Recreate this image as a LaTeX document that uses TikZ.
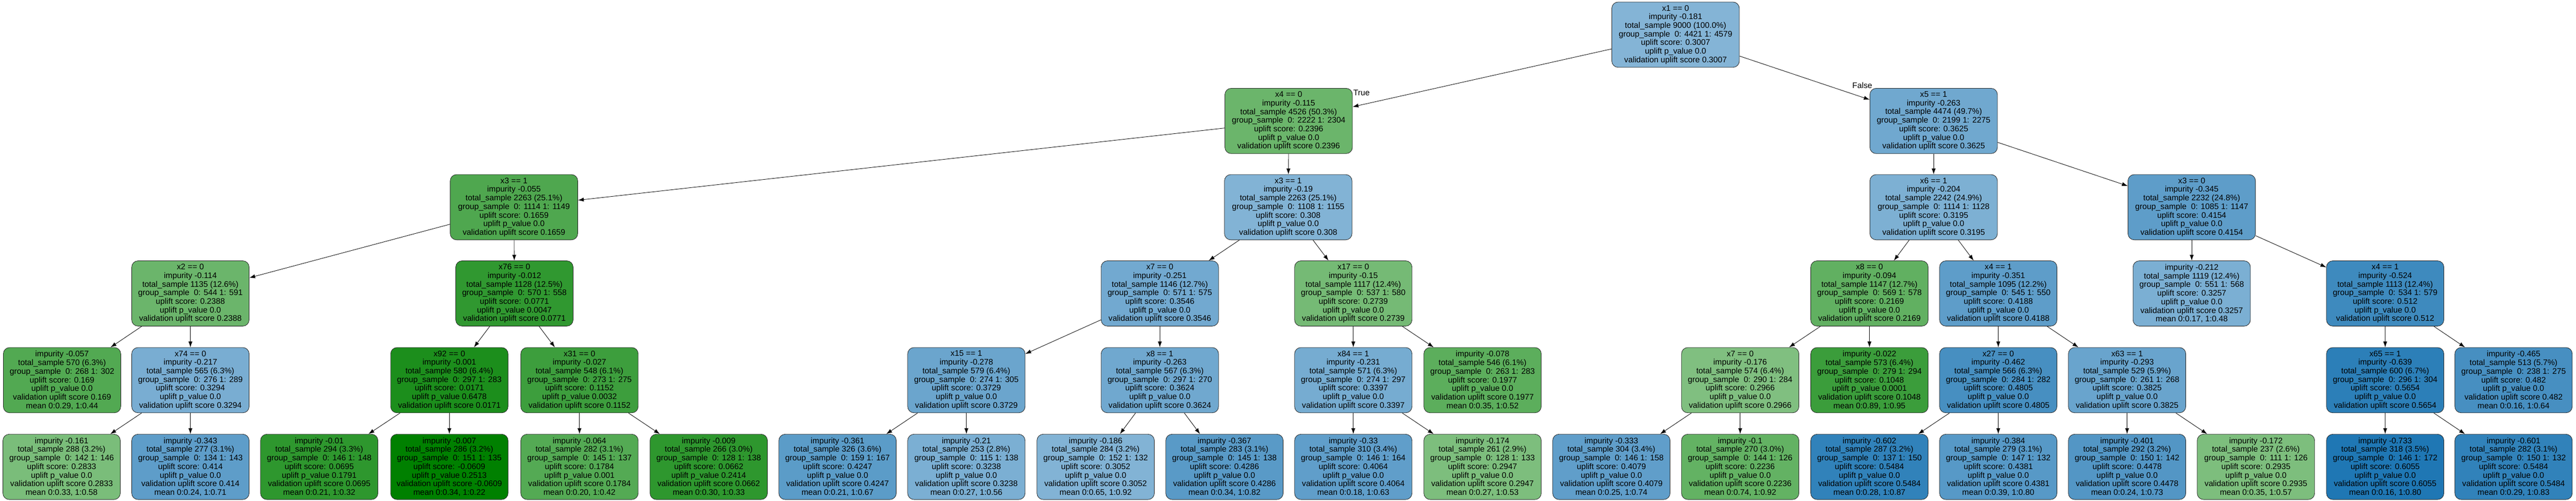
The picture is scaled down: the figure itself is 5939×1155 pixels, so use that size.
\documentclass[tikz,border=0pt]{standalone}
\usepackage{fontspec}
\setmainfont{Liberation Sans}
\usetikzlibrary{arrows.meta}

\definecolor{tblue}{RGB}{31,119,180}
\definecolor{tgreen}{RGB}{0,128,0}

\tikzset{
    box/.style={draw=black!85, line width=0.75pt, rounded corners=11pt, align=center,
        minimum width=203pt, minimum height=113pt, inner xsep=5pt, inner ysep=0pt,
        font=\fontsize{14pt}{14.9pt}\selectfont},
    wide/.style={minimum width=220.5pt},
    bl/.style={fill=tblue!#1!white},
    gr/.style={fill=tgreen!#1!white},
    edge/.style={line width=0.75pt, -{Latex[length=10pt, width=7pt]}},
    tag/.style={inner sep=0pt, font=\fontsize{14pt}{14.9pt}\selectfont}
}

\begin{document}
\begin{tikzpicture}[x=0.75pt, y=-0.75pt]
    \useasboundingbox (0,0) rectangle (5939,1155);

    \node[box, wide, bl=55] (r) at (3863,80) {x1 == 0\\impurity -0.181\\total\_sample 9000 (100.0\%)\\group\_sample\ \ 0: 4421 1: 4579\\uplift score: 0.3007\\uplift p\_value 0.0\\validation uplift score 0.3007};

    \node[box, wide, gr=58] (a) at (2971,279) {x4 == 0\\impurity -0.115\\total\_sample 4526 (50.3\%)\\group\_sample\ \ 0: 2222 1: 2304\\uplift score: 0.2396\\uplift p\_value 0.0\\validation uplift score 0.2396};
    \node[box, wide, bl=64] (b) at (4458,279) {x5 == 1\\impurity -0.263\\total\_sample 4474 (49.7\%)\\group\_sample\ \ 0: 2199 1: 2275\\uplift score: 0.3625\\uplift p\_value 0.0\\validation uplift score 0.3625};

    \node[box, wide, gr=69] (aa) at (1185,478) {x3 == 1\\impurity -0.055\\total\_sample 2263 (25.1\%)\\group\_sample\ \ 0: 1114 1: 1149\\uplift score: 0.1659\\uplift p\_value 0.0\\validation uplift score 0.1659};
    \node[box, wide, bl=56] (ab) at (2970,478) {x3 == 1\\impurity -0.19\\total\_sample 2263 (25.1\%)\\group\_sample\ \ 0: 1108 1: 1155\\uplift score: 0.308\\uplift p\_value 0.0\\validation uplift score 0.308};
    \node[box, wide, bl=58] (ba) at (4458,478) {x6 == 1\\impurity -0.204\\total\_sample 2242 (24.9\%)\\group\_sample\ \ 0: 1114 1: 1128\\uplift score: 0.3195\\uplift p\_value 0.0\\validation uplift score 0.3195};
    \node[box, wide, bl=72] (bb) at (5053,478) {x3 == 0\\impurity -0.345\\total\_sample 2232 (24.8\%)\\group\_sample\ \ 0: 1085 1: 1147\\uplift score: 0.4154\\uplift p\_value 0.0\\validation uplift score 0.4154};

    \node[box, gr=58] (aaa) at (439,677) {x2 == 0\\impurity -0.114\\total\_sample 1135 (12.6\%)\\group\_sample\ \ 0: 544 1: 591\\uplift score: 0.2388\\uplift p\_value 0.0\\validation uplift score 0.2388};
    \node[box, gr=81] (aab) at (1186,677) {x76 == 0\\impurity -0.012\\total\_sample 1128 (12.5\%)\\group\_sample\ \ 0: 570 1: 558\\uplift score: 0.0771\\uplift p\_value 0.0047\\validation uplift score 0.0771};
    \node[box, bl=63] (aba) at (2674,677) {x7 == 0\\impurity -0.251\\total\_sample 1146 (12.7\%)\\group\_sample\ \ 0: 571 1: 575\\uplift score: 0.3546\\uplift p\_value 0.0\\validation uplift score 0.3546};
    \node[box, gr=54] (abb) at (3120,677) {x17 == 0\\impurity -0.15\\total\_sample 1117 (12.4\%)\\group\_sample\ \ 0: 537 1: 580\\uplift score: 0.2739\\uplift p\_value 0.0\\validation uplift score 0.2739};
    \node[box, gr=62] (baa) at (4310,677) {x8 == 0\\impurity -0.094\\total\_sample 1147 (12.7\%)\\group\_sample\ \ 0: 569 1: 578\\uplift score: 0.2169\\uplift p\_value 0.0\\validation uplift score 0.2169};
    \node[box, bl=72] (bab) at (4607,677) {x4 == 1\\impurity -0.351\\total\_sample 1095 (12.2\%)\\group\_sample\ \ 0: 545 1: 550\\uplift score: 0.4188\\uplift p\_value 0.0\\validation uplift score 0.4188};
    \node[box, bl=59] (bba) at (5053,677) {impurity -0.212\\total\_sample 1119 (12.4\%)\\group\_sample\ \ 0: 551 1: 568\\uplift score: 0.3257\\uplift p\_value 0.0\\validation uplift score 0.3257\\mean 0:0.17, 1:0.48};
    \node[box, bl=86] (bbb) at (5499,677) {x4 == 1\\impurity -0.524\\total\_sample 1113 (12.4\%)\\group\_sample\ \ 0: 534 1: 579\\uplift score: 0.512\\uplift p\_value 0.0\\validation uplift score 0.512};

    \node[box, gr=68] (aaaa) at (143,877) {impurity -0.057\\total\_sample 570 (6.3\%)\\group\_sample\ \ 0: 268 1: 302\\uplift score: 0.169\\uplift p\_value 0.0\\validation uplift score 0.169\\mean 0:0.29, 1:0.44};
    \node[box, bl=60] (aaab) at (439,877) {x74 == 0\\impurity -0.217\\total\_sample 565 (6.3\%)\\group\_sample\ \ 0: 276 1: 289\\uplift score: 0.3294\\uplift p\_value 0.0\\validation uplift score 0.3294};
    \node[box, gr=89] (aaba) at (1036,877) {x92 == 0\\impurity -0.001\\total\_sample 580 (6.4\%)\\group\_sample\ \ 0: 297 1: 283\\uplift score: 0.0171\\uplift p\_value 0.6478\\validation uplift score 0.0171};
    \node[box, gr=76] (aabb) at (1336,877) {x31 == 0\\impurity -0.027\\total\_sample 548 (6.1\%)\\group\_sample\ \ 0: 273 1: 275\\uplift score: 0.1152\\uplift p\_value 0.0032\\validation uplift score 0.1152};
    \node[box, bl=66] (abaa) at (2228,877) {x15 == 1\\impurity -0.278\\total\_sample 579 (6.4\%)\\group\_sample\ \ 0: 274 1: 305\\uplift score: 0.3729\\uplift p\_value 0.0\\validation uplift score 0.3729};
    \node[box, bl=64] (abab) at (2674,877) {x8 == 1\\impurity -0.263\\total\_sample 567 (6.3\%)\\group\_sample\ \ 0: 297 1: 270\\uplift score: 0.3624\\uplift p\_value 0.0\\validation uplift score 0.3624};
    \node[box, bl=61] (abba) at (3120,877) {x84 == 1\\impurity -0.231\\total\_sample 571 (6.3\%)\\group\_sample\ \ 0: 274 1: 297\\uplift score: 0.3397\\uplift p\_value 0.0\\validation uplift score 0.3397};
    \node[box, gr=64] (abbb) at (3418,877) {impurity -0.078\\total\_sample 546 (6.1\%)\\group\_sample\ \ 0: 263 1: 283\\uplift score: 0.1977\\uplift p\_value 0.0\\validation uplift score 0.1977\\mean 0:0.35, 1:0.52};
    \node[box, gr=50] (baaa) at (4012,877) {x7 == 0\\impurity -0.176\\total\_sample 574 (6.4\%)\\group\_sample\ \ 0: 290 1: 284\\uplift score: 0.2966\\uplift p\_value 0.0\\validation uplift score 0.2966};
    \node[box, gr=77] (baab) at (4310,877) {impurity -0.022\\total\_sample 573 (6.4\%)\\group\_sample\ \ 0: 279 1: 294\\uplift score: 0.1048\\uplift p\_value 0.0001\\validation uplift score 0.1048\\mean 0:0.89, 1:0.95};
    \node[box, bl=82] (baba) at (4607,877) {x27 == 0\\impurity -0.462\\total\_sample 566 (6.3\%)\\group\_sample\ \ 0: 284 1: 282\\uplift score: 0.4805\\uplift p\_value 0.0\\validation uplift score 0.4805};
    \node[box, bl=67] (babb) at (4904,877) {x63 == 1\\impurity -0.293\\total\_sample 529 (5.9\%)\\group\_sample\ \ 0: 261 1: 268\\uplift score: 0.3825\\uplift p\_value 0.0\\validation uplift score 0.3825};
    \node[box, bl=94] (bbba) at (5499,877) {x65 == 1\\impurity -0.639\\total\_sample 600 (6.7\%)\\group\_sample\ \ 0: 296 1: 304\\uplift score: 0.5654\\uplift p\_value 0.0\\validation uplift score 0.5654};
    \node[box, bl=82] (bbbb) at (5795,877) {impurity -0.465\\total\_sample 513 (5.7\%)\\group\_sample\ \ 0: 238 1: 275\\uplift score: 0.482\\uplift p\_value 0.0\\validation uplift score 0.482\\mean 0:0.16, 1:0.64};

    \node[box, gr=52] (aaaba) at (142,1077) {impurity -0.161\\total\_sample 288 (3.2\%)\\group\_sample\ \ 0: 142 1: 146\\uplift score: 0.2833\\uplift p\_value 0.0\\validation uplift score 0.2833\\mean 0:0.33, 1:0.58};
    \node[box, bl=72] (aaabb) at (439,1077) {impurity -0.343\\total\_sample 277 (3.1\%)\\group\_sample\ \ 0: 134 1: 143\\uplift score: 0.414\\uplift p\_value 0.0\\validation uplift score 0.414\\mean 0:0.24, 1:0.71};
    \node[box, gr=82] (aabaa) at (736,1077) {impurity -0.01\\total\_sample 294 (3.3\%)\\group\_sample\ \ 0: 146 1: 148\\uplift score: 0.0695\\uplift p\_value 0.1791\\validation uplift score 0.0695\\mean 0:0.21, 1:0.32};
    \node[box, gr=100] (aabab) at (1036,1077) {impurity -0.007\\total\_sample 286 (3.2\%)\\group\_sample\ \ 0: 151 1: 135\\uplift score: -0.0609\\uplift p\_value 0.2513\\validation uplift score -0.0609\\mean 0:0.34, 1:0.22};
    \node[box, gr=67] (aabba) at (1336,1077) {impurity -0.064\\total\_sample 282 (3.1\%)\\group\_sample\ \ 0: 145 1: 137\\uplift score: 0.1784\\uplift p\_value 0.001\\validation uplift score 0.1784\\mean 0:0.20, 1:0.42};
    \node[box, gr=82] (aabbb) at (1634,1077) {impurity -0.009\\total\_sample 266 (3.0\%)\\group\_sample\ \ 0: 128 1: 138\\uplift score: 0.0662\\uplift p\_value 0.2414\\validation uplift score 0.0662\\mean 0:0.30, 1:0.33};
    \node[box, bl=73] (abaaa) at (1931,1077) {impurity -0.361\\total\_sample 326 (3.6\%)\\group\_sample\ \ 0: 159 1: 167\\uplift score: 0.4247\\uplift p\_value 0.0\\validation uplift score 0.4247\\mean 0:0.21, 1:0.67};
    \node[box, bl=59] (abaab) at (2228,1077) {impurity -0.21\\total\_sample 253 (2.8\%)\\group\_sample\ \ 0: 115 1: 138\\uplift score: 0.3238\\uplift p\_value 0.0\\validation uplift score 0.3238\\mean 0:0.27, 1:0.56};
    \node[box, bl=56] (ababa) at (2526,1077) {impurity -0.186\\total\_sample 284 (3.2\%)\\group\_sample\ \ 0: 152 1: 132\\uplift score: 0.3052\\uplift p\_value 0.0\\validation uplift score 0.3052\\mean 0:0.65, 1:0.92};
    \node[box, bl=74] (ababb) at (2823,1077) {impurity -0.367\\total\_sample 283 (3.1\%)\\group\_sample\ \ 0: 145 1: 138\\uplift score: 0.4286\\uplift p\_value 0.0\\validation uplift score 0.4286\\mean 0:0.34, 1:0.82};
    \node[box, bl=71] (abbaa) at (3120,1077) {impurity -0.33\\total\_sample 310 (3.4\%)\\group\_sample\ \ 0: 146 1: 164\\uplift score: 0.4064\\uplift p\_value 0.0\\validation uplift score 0.4064\\mean 0:0.18, 1:0.63};
    \node[box, gr=51] (abbab) at (3418,1077) {impurity -0.174\\total\_sample 261 (2.9\%)\\group\_sample\ \ 0: 128 1: 133\\uplift score: 0.2947\\uplift p\_value 0.0\\validation uplift score 0.2947\\mean 0:0.27, 1:0.53};
    \node[box, bl=71] (baaaa) at (3715,1077) {impurity -0.333\\total\_sample 304 (3.4\%)\\group\_sample\ \ 0: 146 1: 158\\uplift score: 0.4079\\uplift p\_value 0.0\\validation uplift score 0.4079\\mean 0:0.25, 1:0.74};
    \node[box, gr=61] (baaab) at (4012,1077) {impurity -0.1\\total\_sample 270 (3.0\%)\\group\_sample\ \ 0: 144 1: 126\\uplift score: 0.2236\\uplift p\_value 0.0\\validation uplift score 0.2236\\mean 0:0.74, 1:0.92};
    \node[box, bl=92] (babaa) at (4310,1077) {impurity -0.602\\total\_sample 287 (3.2\%)\\group\_sample\ \ 0: 137 1: 150\\uplift score: 0.5484\\uplift p\_value 0.0\\validation uplift score 0.5484\\mean 0:0.28, 1:0.87};
    \node[box, bl=75] (babab) at (4607,1077) {impurity -0.384\\total\_sample 279 (3.1\%)\\group\_sample\ \ 0: 147 1: 132\\uplift score: 0.4381\\uplift p\_value 0.0\\validation uplift score 0.4381\\mean 0:0.39, 1:0.80};
    \node[box, bl=77] (babba) at (4904,1077) {impurity -0.401\\total\_sample 292 (3.2\%)\\group\_sample\ \ 0: 150 1: 142\\uplift score: 0.4478\\uplift p\_value 0.0\\validation uplift score 0.4478\\mean 0:0.24, 1:0.73};
    \node[box, gr=51] (babbb) at (5201,1077) {impurity -0.172\\total\_sample 237 (2.6\%)\\group\_sample\ \ 0: 111 1: 126\\uplift score: 0.2935\\uplift p\_value 0.0\\validation uplift score 0.2935\\mean 0:0.35, 1:0.57};
    \node[box, bl=100] (bbbaa) at (5499,1077) {impurity -0.733\\total\_sample 318 (3.5\%)\\group\_sample\ \ 0: 146 1: 172\\uplift score: 0.6055\\uplift p\_value 0.0\\validation uplift score 0.6055\\mean 0:0.16, 1:0.80};
    \node[box, bl=92] (bbbab) at (5795,1077) {impurity -0.601\\total\_sample 282 (3.1\%)\\group\_sample\ \ 0: 150 1: 132\\uplift score: 0.5484\\uplift p\_value 0.0\\validation uplift score 0.5484\\mean 0:0.29, 1:0.83};

    \draw[edge] (r) -- (a);
    \draw[edge] (r) -- (b);
    \node[tag, anchor=north west] (ltrue) at ([xshift=1pt, yshift=-3pt]a.north east) {True};
    \node[tag, anchor=south east] (lfalse) at ([xshift=4.5pt, yshift=-1pt]b.north west) {False};
    \draw[edge] (a) -- (aa);  \draw[edge] (a) -- (ab);
    \draw[edge] (b) -- (ba);  \draw[edge] (b) -- (bb);
    \draw[edge] (aa) -- (aaa);  \draw[edge] (aa) -- (aab);
    \draw[edge] (ab) -- (aba);  \draw[edge] (ab) -- (abb);
    \draw[edge] (ba) -- (baa);  \draw[edge] (ba) -- (bab);
    \draw[edge] (bb) -- (bba);  \draw[edge] (bb) -- (bbb);
    \draw[edge] (aaa) -- (aaaa);  \draw[edge] (aaa) -- (aaab);
    \draw[edge] (aab) -- (aaba);  \draw[edge] (aab) -- (aabb);
    \draw[edge] (aba) -- (abaa);  \draw[edge] (aba) -- (abab);
    \draw[edge] (abb) -- (abba);  \draw[edge] (abb) -- (abbb);
    \draw[edge] (baa) -- (baaa);  \draw[edge] (baa) -- (baab);
    \draw[edge] (bab) -- (baba);  \draw[edge] (bab) -- (babb);
    \draw[edge] (bbb) -- (bbba);  \draw[edge] (bbb) -- (bbbb);
    \draw[edge] (aaab) -- (aaaba);  \draw[edge] (aaab) -- (aaabb);
    \draw[edge] (aaba) -- (aabaa);  \draw[edge] (aaba) -- (aabab);
    \draw[edge] (aabb) -- (aabba);  \draw[edge] (aabb) -- (aabbb);
    \draw[edge] (abaa) -- (abaaa);  \draw[edge] (abaa) -- (abaab);
    \draw[edge] (abab) -- (ababa);  \draw[edge] (abab) -- (ababb);
    \draw[edge] (abba) -- (abbaa);  \draw[edge] (abba) -- (abbab);
    \draw[edge] (baaa) -- (baaaa);  \draw[edge] (baaa) -- (baaab);
    \draw[edge] (baba) -- (babaa);  \draw[edge] (baba) -- (babab);
    \draw[edge] (babb) -- (babba);  \draw[edge] (babb) -- (babbb);
    \draw[edge] (bbba) -- (bbbaa);  \draw[edge] (bbba) -- (bbbab);
\end{tikzpicture}
\end{document}
